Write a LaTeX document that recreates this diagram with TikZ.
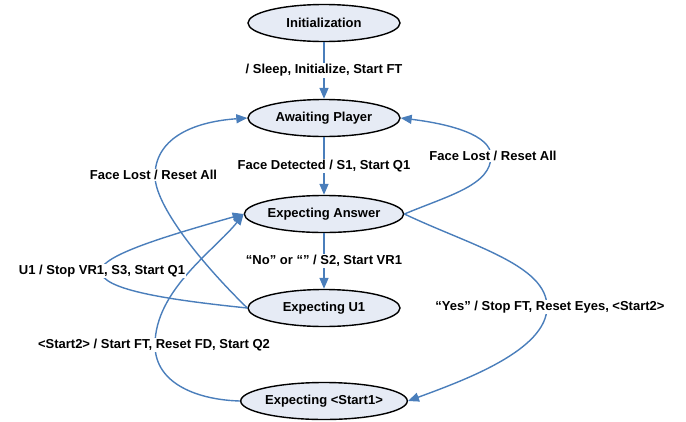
\documentclass[tikz,border=0pt]{standalone}
\usepackage{fontspec}
\setmainfont{Liberation Sans}
\usetikzlibrary{arrows.meta,shapes.geometric}
\definecolor{edgeblue}{HTML}{4A7EBB}
\definecolor{statefill}{HTML}{E6EBF5}
\begin{document}
\begin{tikzpicture}[x=1pt,y=1pt,
 state/.style={ellipse,draw=black,line width=1.4pt,fill=statefill,minimum width=152pt,minimum height=37pt,inner sep=0pt,font=\fontsize{13}{15}\selectfont\bfseries},
 trans/.style={draw=edgeblue,line width=1.4pt,-{Triangle[length=11pt,width=9pt]}},
 lbl/.style={fill=white,inner sep=1pt,font=\fontsize{13}{15}\selectfont\bfseries}]
\useasboundingbox (0,-421) rectangle (686,0);
\node[state] (init) at (324,-23) {Initialization};
\node[state] (ap) at (324,-118) {Awaiting Player};
\node[state] (ea) at (324,-214) {Expecting Answer};
\node[state] (u1) at (324,-308) {Expecting U1};
\node[state] (s1) at (324,-401) {Expecting <Start1>};
% curve waypoints
\coordinate (cl) at (155,-176);
\coordinate (cr) at (491,-156);
\coordinate (cu) at (101,-271);
\coordinate (cs) at (155,-345);
\coordinate (cy) at (547,-307);
% straight edges
\draw[trans] (init) -- node[lbl]{/ Sleep, Initialize, Start FT} (ap);
\draw[trans] (ap) -- node[lbl]{Face Detected / S1, Start Q1} (ea);
\draw[trans] (ea) -- node[lbl]{“No” or “” / S2, Start VR1} (u1);
% curved edges
\draw[trans] (u1.west) .. controls (200,-262) and (155,-205) .. (cl)
  .. controls (155,-140) and (190,-122) .. (ap.west);
\draw[trans] (ea.east) .. controls (450,-195) and (491,-185) .. (cr)
  .. controls (491,-135) and (450,-124) .. (ap.east);
\draw[trans] (u1.west) .. controls (170,-300) and (101,-290) .. (cu)
  .. controls (101,-255) and (170,-235) .. (ea.west);
\draw[trans] (s1.west) .. controls (200,-400) and (155,-385) .. (cs)
  .. controls (155,-290) and (215,-250) .. (ea.west);
\draw[trans] (ea.east) .. controls (472,-246) and (547,-265) .. (cy)
  .. controls (547,-350) and (465,-380) .. (s1.east);
% labels on curves
\node[lbl] (lfl) at (153.5,-175) {Face Lost / Reset All};
\node[lbl] (rfl) at (493,-156) {Face Lost / Reset All};
\node[lbl] (lu1) at (102,-271) {U1 / Stop VR1, S3, Start Q1};
\node[lbl] (ls2) at (154,-345) {<Start2> / Start FT, Reset FD, Start Q2};
\node[lbl] (lys) at (550,-307) {“Yes” / Stop FT, Reset Eyes, <Start2>};
\end{tikzpicture}
\end{document}
